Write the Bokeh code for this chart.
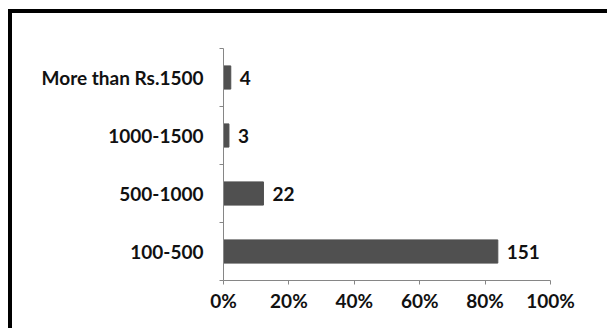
from bokeh.plotting import figure
from bokeh.models import FixedTicker, NumeralTickFormatter, ColumnDataSource, Range1d
from bokeh.core.properties import value
from bokeh.embed import file_html
from bokeh.resources import INLINE

categories = ["100-500", "500-1000", "1000-1500", "More than Rs.1500"]
counts = [151, 22, 3, 4]
x_ticks = [0, 0.2, 0.4, 0.6, 0.8, 1.0]

total = sum(counts)
shares = [c / total for c in counts]
ypos = [i + 0.5 for i in range(len(categories))]

src = ColumnDataSource(dict(y=ypos, share=shares, label=[str(c) for c in counts]))

FONT = "Lato"
FS = "19px"

p = figure(width=599, height=319, x_range=Range1d(0, 1), y_range=Range1d(0, len(categories)),
           output_backend="svg", toolbar_location=None,
           min_border_left=211, min_border_right=61, min_border_top=35, min_border_bottom=52,
           margin=(9, 0, 0, 8),
           styles={"border-left": "4px solid #000", "border-top": "4px solid #000"})
p.outline_line_color = None
p.xgrid.visible = False
p.ygrid.visible = False

p.hbar(y="y", right="share", left=0, height=0.4, color="#505050", source=src)
p.text(x="share", y="y", text="label", x_offset=9, text_baseline="middle", text_align="left",
       text_font=value(FONT), text_font_style="bold", text_font_size=FS, text_color="#111111",
       source=src)

ax = p.xaxis[0]
ax.ticker = FixedTicker(ticks=x_ticks)
ax.formatter = NumeralTickFormatter(format="0%")
ax.major_tick_in = 0
ax.major_tick_out = 4
ax.minor_tick_out = 0
ax.minor_tick_in = 0
ax.axis_line_color = "#868686"
ax.major_tick_line_color = "#868686"
ax.major_label_text_font = FONT
ax.major_label_text_font_style = "bold"
ax.major_label_text_font_size = FS
ax.major_label_text_color = "#111111"
ax.major_label_standoff = 4

ay = p.yaxis[0]
ay.ticker = FixedTicker(ticks=ypos, minor_ticks=list(range(len(categories) + 1)))
ay.major_label_overrides = {y: c for y, c in zip(ypos, categories)}
ay.major_tick_in = 0
ay.major_tick_out = 0
ay.minor_tick_in = 0
ay.minor_tick_out = 4
ay.axis_line_color = "#868686"
ay.minor_tick_line_color = "#868686"
ay.major_label_text_font = FONT
ay.major_label_text_font_style = "bold"
ay.major_label_text_font_size = FS
ay.major_label_text_color = "#111111"
ay.major_label_standoff = 16

open("out.html", "w").write(file_html(p, INLINE))
